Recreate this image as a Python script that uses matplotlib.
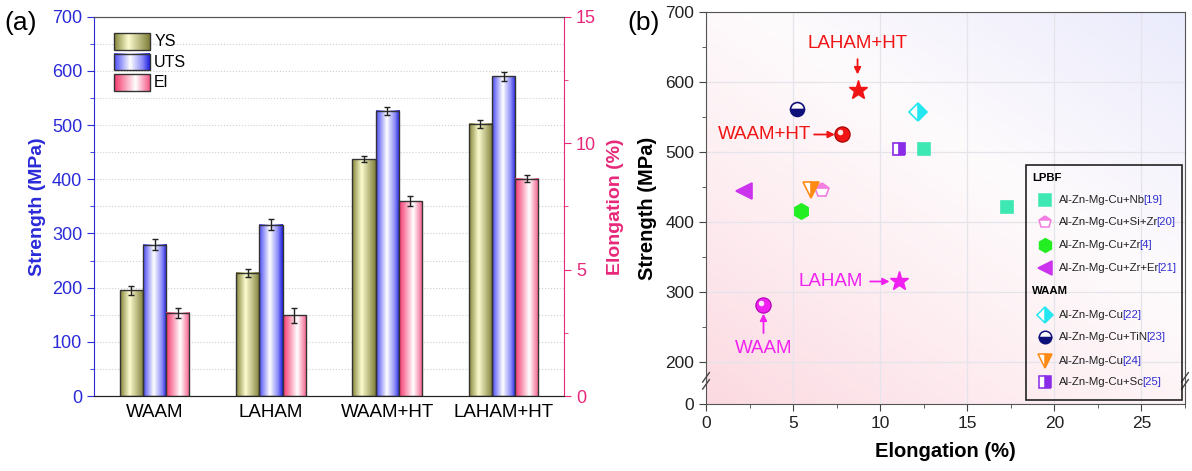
import numpy as np
import matplotlib.pyplot as plt
import matplotlib.transforms as mtransforms
from matplotlib.colors import LinearSegmentedColormap
from matplotlib.patches import Rectangle
from matplotlib.ticker import MultipleLocator, FixedLocator

plt.rcParams['font.family'] = ['Liberation Sans', 'DejaVu Sans']

# ---------------- panel (a) data ----------------
groups = ["WAAM", "LAHAM", "WAAM+HT", "LAHAM+HT"]
ys = [195, 227, 437, 502]
ys_err = [8, 8, 6, 8]
uts = [279, 316, 526, 590]
uts_err = [10, 10, 7, 8]
el = [3.3, 3.2, 7.7, 8.6]
el_err = [0.2, 0.3, 0.2, 0.15]

# ---------------- panel (b) data ----------------
work_names = ["WAAM", "LAHAM", "WAAM+HT", "LAHAM+HT"]
work_el = [3.3, 11.1, 7.8, 8.7]
work_st = [281, 315, 525, 589]

lit_groups = ["LPBF", "LPBF", "LPBF", "LPBF", "WAAM", "WAAM", "WAAM", "WAAM"]
lit_labels = ["Al-Zn-Mg-Cu+Nb", "Al-Zn-Mg-Cu+Si+Zr", "Al-Zn-Mg-Cu+Zr",
              "Al-Zn-Mg-Cu+Zr+Er", "Al-Zn-Mg-Cu", "Al-Zn-Mg-Cu+TiN",
              "Al-Zn-Mg-Cu", "Al-Zn-Mg-Cu+Sc"]
lit_refs = ["[19]", "[20]", "[4]", "[21]", "[22]", "[23]", "[24]", "[25]"]
lit_el = [[12.5, 17.3], [6.65], [5.45], [2.2], [12.15], [5.2], [6.0], [11.1]]
lit_st = [[504, 421], [446], [416], [444], [557], [561], [446], [504]]

# styles for the literature series: marker, colour, fillstyle, size
lit_style = [
    ('s', '#3de8b2', 'full', 9),
    ('p', '#f27ee0', 'top', 10),
    ('h', '#22ee22', 'full', 11),
    ('<', '#cc33ee', 'full', 11),
    ('D', '#22e6f0', 'right', 9),
    ('o', '#10107a', 'bottom', 10),
    ('v', '#ff8a14', 'right', 11),
    ('s', '#8a2be8', 'right', 9),
]

BLUE = '#2a2ad8'
PINK = '#e8287a'
RED = '#f01414'
MAG = '#f020f0'

fig = plt.figure(figsize=(11.92, 4.71), dpi=100)

# ======================= (a) =======================
ax = fig.add_axes([0.0789, 0.159, 0.3943, 0.8056])
ax2 = ax.twinx()

x = np.arange(len(groups))
w = 0.2

grad_ys = LinearSegmentedColormap.from_list('ys', [(0, '#85853a'), (0.4, '#fbfbcf'), (1, '#80803a')])
grad_uts = LinearSegmentedColormap.from_list('uts', [(0, '#4a4af5'), (0.45, '#ffffff'), (0.8, '#8a8af8'), (1, '#2020e0')])
grad_el = LinearSegmentedColormap.from_list('el', [(0, '#f5386e'), (0.6, '#ffffff'), (1, '#f55a88')])


def grad_bars(a, xs, vals, errs, cmap):
    bars = a.bar(xs, vals, w, yerr=errs, facecolor='none', edgecolor='#333333',
                 linewidth=1.0, zorder=3,
                 error_kw=dict(ecolor='#222222', elinewidth=1.0, capsize=2.5, capthick=1.0, zorder=4))
    img = cmap(np.linspace(0, 1, 64))[None, :, :]
    for r in bars.patches:
        a.imshow(img, extent=(r.get_x(), r.get_x() + r.get_width(), 0, r.get_height()),
                 aspect='auto', zorder=2, interpolation='bilinear')
    return bars


grad_bars(ax, x - w, ys, ys_err, grad_ys)
grad_bars(ax, x, uts, uts_err, grad_uts)
grad_bars(ax2, x + w, el, el_err, grad_el)

ax.set_xlim(-0.52, 3.52)
ax.set_ylim(0, 700)
ax2.set_ylim(0, 15)
ax.set_xticks(x)
ax.set_xticklabels(groups, fontsize=13.5)
ax.tick_params(axis='x', length=0, pad=6)

ax.yaxis.set_major_locator(MultipleLocator(100))
ax.yaxis.set_minor_locator(MultipleLocator(50))
ax.tick_params(axis='y', which='major', length=5, direction='out', colors=BLUE, labelsize=13)
ax.tick_params(axis='y', which='minor', length=3, direction='out', colors=BLUE)
ax.set_ylabel('Strength (MPa)', color=BLUE, fontsize=14, fontweight='bold', labelpad=4)
ax.yaxis.grid(True, which='both', ls=':', color='#cfcfcf', lw=0.8)
ax.set_axisbelow(True)

ax2.yaxis.set_major_locator(MultipleLocator(5))
ax2.yaxis.set_minor_locator(MultipleLocator(2.5))
ax2.tick_params(axis='y', which='major', length=5, direction='out', colors=PINK, labelsize=13)
ax2.tick_params(axis='y', which='minor', length=3, direction='out', colors=PINK)
ax2.set_ylabel('Elongation (%)', color=PINK, fontsize=14, fontweight='bold', labelpad=8)

ax.spines['left'].set_color(BLUE)
ax.spines['right'].set_visible(False)
ax.spines['top'].set_color('#555555')
ax.spines['bottom'].set_color('#222222')
ax2.spines['left'].set_visible(False)
ax2.spines['right'].set_color(PINK)
ax2.spines['top'].set_color('#555555')
ax2.spines['bottom'].set_color('#222222')

# legend (a)
leg_names = ["YS", "UTS", "El"]
leg_cmaps = [grad_ys, grad_uts, grad_el]
for i, (nm, cm) in enumerate(zip(leg_names, leg_cmaps)):
    y0 = 0.912 - i * 0.0535
    img = cm(np.linspace(0, 1, 64))[None, :, :]
    ax2.imshow(img, extent=(0.043, 0.119, y0, y0 + 0.044), transform=ax2.transAxes,
               aspect='auto', zorder=5, interpolation='bilinear')
    ax2.add_patch(Rectangle((0.043, y0), 0.076, 0.044, transform=ax2.transAxes,
                            facecolor='none', edgecolor='#333333', lw=1.0, zorder=6))
    ax2.text(0.128, y0 + 0.022, nm, transform=ax2.transAxes, fontsize=11.5,
             va='center', ha='left', zorder=6)
ax2.set_xlim(-0.52, 3.52)
ax2.set_ylim(0, 15)

fig.text(0.004, 0.952, '(a)', fontsize=19, va='center', ha='left')

# ======================= (b) =======================
pos_b = [0.5923, 0.1423, 0.4018, 0.8322]
bg = fig.add_axes(pos_b, zorder=0)
u, v = np.meshgrid(np.linspace(0, 1, 200), np.linspace(0, 1, 200))
s = (u * 0.9 + v * 1.1) / 2
pink_c = np.array([252, 216, 224]) / 255
mid_c = np.array([254, 251, 252]) / 255
lav_c = np.array([234, 235, 252]) / 255
t1 = np.clip(s / 0.6, 0, 1)[..., None] ** 0.8
t2 = np.clip((s - 0.6) / 0.4, 0, 1)[..., None]
col = np.where(s[..., None] < 0.6, pink_c + (mid_c - pink_c) * t1, mid_c + (lav_c - mid_c) * t2)
bg.imshow(col, extent=(0, 1, 0, 1), origin='lower', aspect='auto')
bg.axis('off')

bx = fig.add_axes(pos_b, zorder=1)
bx.patch.set_alpha(0)


def fwd(y):
    y = np.asarray(y, dtype=float)
    return np.where(y < 200, 140 + 0.3 * y, y)


def inv(v):
    v = np.asarray(v, dtype=float)
    return np.where(v < 200, (v - 140) / 0.3, v)


bx.set_yscale('function', functions=(fwd, inv))
bx.set_ylim(0, 700)
bx.set_xlim(0, 27.5)
bx.yaxis.set_major_locator(FixedLocator([0, 200, 300, 400, 500, 600, 700]))
bx.yaxis.set_minor_locator(FixedLocator([250, 350, 450, 550, 650]))
bx.yaxis.set_major_formatter(plt.FuncFormatter(lambda val, p: f'{val:g}'))
bx.yaxis.set_minor_formatter(plt.NullFormatter())
bx.xaxis.set_major_locator(MultipleLocator(5))
bx.xaxis.set_minor_locator(MultipleLocator(2.5))
bx.tick_params(which='major', length=5, direction='out', colors='#444444', labelsize=12.5,
               labelcolor='#222222')
bx.tick_params(which='minor', length=3, direction='out', colors='#444444')
bx.grid(True, which='major', color='#e4e4ea', lw=0.9)
bx.set_axisbelow(True)
for sp in bx.spines.values():
    sp.set_color('#555555')
bx.set_xlabel('Elongation (%)', fontsize=14.5, fontweight='bold', labelpad=8)
bx.set_ylabel('Strength (MPa)', fontsize=14.5, fontweight='bold', labelpad=6)

# axis break marks
for xb in (0, 1):
    for dy in (0.0, 0.018):
        bx.plot([xb - 0.007, xb + 0.007], [0.038 + dy, 0.062 + dy], transform=bx.transAxes,
                color='#444444', lw=1.0, clip_on=False, zorder=5)

# literature points
for st, xs_, ys_ in zip(lit_style, lit_el, lit_st):
    mk, c, fs, ms = st
    bx.plot(xs_, ys_, ls='none', marker=mk, ms=ms, color=c, mec=c, mew=1.2,
            fillstyle=fs, markerfacecoloralt='white', zorder=4)

# this work points
work_colors = [MAG, MAG, RED, RED]
work_markers = ['o', '*', 'o', '*']
work_dark = ['#b000b0', MAG, '#a00000', RED]
hl = mtransforms.ScaledTranslation(-1.6 / 72, 1.6 / 72, fig.dpi_scale_trans)
for xv, yv, c, mk, dk in zip(work_el, work_st, work_colors, work_markers, work_dark):
    if mk == 'o':
        bx.plot([xv], [yv], ls='none', marker='o', ms=11, color=c, mec=dk, mew=0.8, zorder=5)
        bx.plot([xv], [yv], ls='none', marker='o', ms=4, color='white', mew=0, alpha=0.9,
                transform=bx.transData + hl, zorder=6)
    else:
        bx.plot([xv], [yv], ls='none', marker='*', ms=14, color=c, mec=c, zorder=5)

# annotations (offsets in points)
ann = {
    "LAHAM+HT": dict(xytext=(0, 27), ha='center', va='bottom', shrinkA=3, shrinkB=11),
    "WAAM+HT": dict(xytext=(-22, 0), ha='right', va='center', shrinkA=0, shrinkB=5),
    "LAHAM": dict(xytext=(-26, 0), ha='right', va='center', shrinkA=3, shrinkB=7),
    "WAAM": dict(xytext=(0, -25), ha='center', va='top', shrinkA=3, shrinkB=6),
}
for nm, xv, yv, c in zip(work_names, work_el, work_st, work_colors):
    a = ann[nm]
    bx.annotate(nm, xy=(xv, yv), xytext=a['xytext'], textcoords='offset points',
                ha=a['ha'], va=a['va'], color=c, fontsize=13.5, zorder=7,
                arrowprops=dict(arrowstyle='-|>', color=c, lw=1.3, mutation_scale=10,
                                shrinkA=a['shrinkA'], shrinkB=a['shrinkB']))

# legend (b), drawn by hand so the reference numbers can be blue
bx.add_patch(Rectangle((0.668, 0.010), 0.326, 0.600, transform=bx.transAxes,
                       facecolor='none', edgecolor='#222222', lw=1.2, zorder=8))
row_y = [0.520, 0.464, 0.405, 0.347, 0.228, 0.171, 0.110, 0.055]
head_y = {"LPBF": 0.577, "WAAM": 0.287}
for g, hy in head_y.items():
    bx.text(0.681, hy, g, transform=bx.transAxes, fontsize=8.2, fontweight='bold',
            va='center', ha='left', zorder=9)
for st, lab, ref, ry in zip(lit_style, lit_labels, lit_refs, row_y):
    mk, c, fs, ms = st
    bx.plot([0.708], [ry], transform=bx.transAxes, ls='none', marker=mk, ms=ms * 0.9,
            color=c, mec=c, mew=1.1, fillstyle=fs, markerfacecoloralt='white',
            clip_on=False, zorder=9)
    t = bx.text(0.737, ry, lab, transform=bx.transAxes, fontsize=8.2, va='center',
                ha='left', color='#222222', zorder=9)
    bx.annotate(ref, xy=(1, 0.5), xycoords=t, xytext=(-1.5, 0), textcoords='offset points',
                va='center', ha='left', fontsize=8.2, color='#3030d0', zorder=9)

fig.text(0.526, 0.952, '(b)', fontsize=19, va='center', ha='left')

fig.savefig('out.png', dpi=100)
